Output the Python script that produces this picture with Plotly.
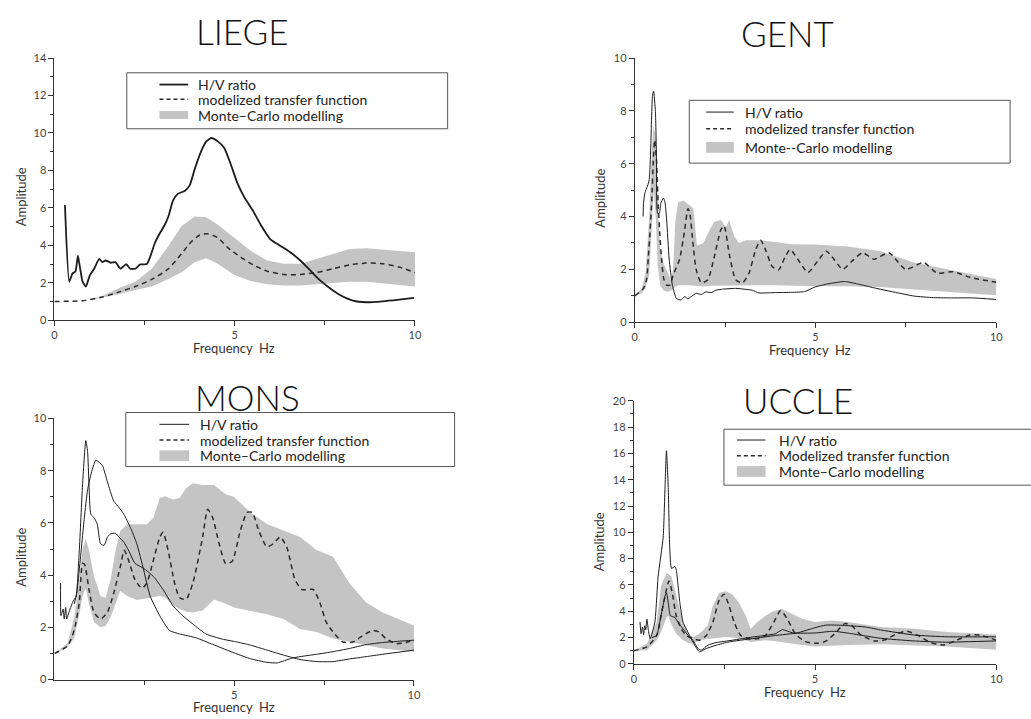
import plotly.graph_objects as go

FONT = "Lato, 'DejaVu Sans', sans-serif"
W, H = 1031, 719

INK = "#1c1c1c"
DASH_INK = "#2b2b2b"
BAND = "#c4c4c4"
AXIS = "#333333"
DASH = "5px,4px"

# ---------------- LIEGE ----------------
liege_hv = [(0.29, 6.15), (0.41, 2.06), (0.50, 2.5), (0.58, 2.6), (0.65, 3.45), (0.70, 2.9),
            (0.78, 2.06), (0.87, 1.8), (0.98, 2.4), (1.10, 2.75), (1.24, 3.28), (1.33, 3.1),
            (1.42, 3.19), (1.56, 3.07), (1.69, 3.1), (1.83, 2.75), (1.99, 3.0), (2.10, 2.75),
            (2.24, 2.75), (2.38, 2.98), (2.56, 3.0), (2.65, 3.36), (2.79, 4.15), (2.93, 4.67),
            (3.06, 5.1), (3.16, 5.54), (3.29, 6.4), (3.43, 6.76), (3.61, 6.9), (3.75, 7.2),
            (3.89, 8.07), (4.07, 9.03), (4.21, 9.55), (4.35, 9.73), (4.53, 9.55), (4.71, 9.2),
            (4.89, 8.33), (5.08, 7.29), (5.26, 6.59), (5.49, 5.9), (5.72, 5.1), (5.99, 4.32),
            (6.27, 3.97), (6.54, 3.63), (6.82, 3.19), (7.09, 2.67), (7.36, 2.14), (7.64, 1.71),
            (7.91, 1.36), (8.28, 1.05), (8.65, 0.96), (9.10, 1.01), (9.56, 1.10), (9.97, 1.19)]
liege_tf = [(0.0, 1.0), (0.5, 1.02), (0.87, 1.06), (1.33, 1.24), (1.78, 1.5), (2.24, 1.8),
            (2.7, 2.18), (3.16, 2.75), (3.52, 3.54), (3.8, 4.2), (4.03, 4.55), (4.25, 4.62),
            (4.53, 4.41), (4.8, 3.89), (5.17, 3.36), (5.54, 2.93), (5.9, 2.62), (6.36, 2.44),
            (6.82, 2.44), (7.27, 2.55), (7.73, 2.75), (8.19, 2.96), (8.65, 3.05), (9.1, 3.02),
            (9.56, 2.84), (10.0, 2.55)]
# (frequency, lower envelope, upper envelope)
liege_mc = [(1.0, 1.08, 1.12), (1.33, 1.2, 1.3), (1.78, 1.39, 1.71), (2.24, 1.62, 2.06),
            (2.7, 1.8, 2.75), (3.16, 2.2, 3.97), (3.52, 2.55, 5.02), (3.89, 3.1, 5.54),
            (4.21, 3.31, 5.5), (4.53, 3.02, 5.1), (4.99, 2.41, 4.41), (5.44, 2.09, 3.71),
            (5.9, 1.92, 3.19), (6.36, 1.85, 3.02), (6.82, 1.85, 3.02), (7.27, 1.92, 3.28),
            (7.73, 1.97, 3.54), (8.19, 2.06, 3.8), (8.65, 2.06, 3.84), (9.1, 1.97, 3.77),
            (9.56, 1.88, 3.71), (10.0, 1.8, 3.63)]

# ---------------- GENT ----------------
gent_hv = [(0.23, 4.0), (0.24, 4.5), (0.28, 4.9), (0.35, 5.15), (0.40, 5.4), (0.44, 6.6),
           (0.49, 8.59), (0.52, 8.75), (0.57, 7.97), (0.60, 6.23), (0.63, 4.13), (0.68, 4.13),
           (0.72, 4.5), (0.79, 4.7), (0.83, 4.58), (0.88, 3.9), (0.95, 2.39), (1.04, 1.4),
           (1.15, 0.9), (1.28, 0.84), (1.38, 0.97), (1.47, 0.88), (1.56, 0.97), (1.7, 1.09),
           (1.84, 1.05), (1.97, 1.15), (2.11, 1.12), (2.24, 1.21), (2.43, 1.25), (2.79, 1.28),
           (3.25, 1.21), (3.43, 1.11), (3.89, 1.12), (4.34, 1.13), (4.7, 1.16), (4.98, 1.33),
           (5.34, 1.45), (5.8, 1.54), (6.16, 1.45), (6.62, 1.3), (7.17, 1.14), (7.72, 0.99),
           (8.26, 0.93), (8.81, 0.92), (9.36, 0.92), (10.0, 0.86)]
gent_tf = [(0.0, 1.0), (0.24, 1.28), (0.33, 1.65), (0.37, 2.39), (0.42, 3.38), (0.47, 4.62),
           (0.51, 6.1), (0.55, 6.9), (0.60, 6.1), (0.65, 4.37), (0.69, 3.38), (0.74, 2.39),
           (0.8, 1.65), (0.88, 1.4), (0.97, 1.4), (1.06, 1.78), (1.24, 2.39), (1.38, 3.5),
           (1.47, 4.3), (1.52, 4.15), (1.61, 2.97), (1.7, 1.98), (1.84, 1.49), (2.02, 1.61),
           (2.2, 2.48), (2.38, 3.5), (2.47, 3.65), (2.61, 2.6), (2.79, 1.61), (2.98, 1.49),
           (3.16, 1.86), (3.34, 2.73), (3.48, 3.1), (3.62, 2.73), (3.8, 2.11), (3.98, 1.98),
           (4.16, 2.48), (4.3, 2.75), (4.5, 2.4), (4.79, 1.88), (5.05, 2.3), (5.3, 2.69),
           (5.5, 2.4), (5.75, 2.0), (6.0, 2.3), (6.3, 2.63), (6.62, 2.38), (7.03, 2.63),
           (7.49, 2.0), (7.99, 2.26), (8.36, 1.86), (8.81, 1.91), (9.27, 1.7), (10.0, 1.51)]
gent_mc = [(0.0, 1.0, 1.0), (0.2, 1.1, 1.3), (0.3, 1.3, 1.9), (0.4, 1.8, 4.0), (0.47, 3.5, 6.5),
           (0.52, 5.0, 7.45), (0.58, 4.0, 7.0), (0.63, 2.2, 4.6), (0.7, 1.4, 2.8), (0.8, 1.2, 2.2),
           (0.9, 1.15, 1.9), (1.0, 1.2, 1.6), (1.06, 1.25, 2.0), (1.12, 1.35, 3.8), (1.2, 1.4, 4.55),
           (1.35, 1.4, 4.6), (1.5, 1.4, 4.45), (1.62, 1.4, 4.3), (1.67, 1.4, 3.6), (1.72, 1.38, 2.9),
           (1.9, 1.35, 3.0), (2.07, 1.38, 3.5), (2.2, 1.4, 3.8), (2.38, 1.4, 3.87), (2.52, 1.4, 3.6),
           (2.61, 1.4, 3.87), (2.75, 1.4, 3.25), (2.88, 1.4, 3.0), (3.07, 1.4, 3.1), (3.43, 1.4, 3.1),
           (3.89, 1.4, 3.04), (4.34, 1.4, 2.95), (4.98, 1.36, 2.94), (5.89, 1.36, 2.87),
           (6.8, 1.33, 2.69), (7.72, 1.24, 2.26), (8.63, 1.14, 2.0), (10.0, 1.02, 1.64)]

# ---------------- MONS ----------------
mons_hv_a = [(0.17, 3.7), (0.18, 2.45), (0.24, 2.7), (0.27, 2.32), (0.31, 2.76), (0.34, 2.32),
             (0.4, 2.57), (0.5, 2.95), (0.6, 3.2), (0.69, 4.95), (0.78, 7.45), (0.87, 9.15),
             (0.92, 8.74), (0.96, 7.45), (1.01, 6.33), (1.1, 6.2), (1.19, 5.95), (1.28, 5.2),
             (1.38, 5.14), (1.47, 5.45), (1.56, 5.58), (1.7, 5.6), (1.8, 5.45), (1.93, 5.26),
             (2.06, 4.95), (2.24, 4.45), (2.48, 4.26), (2.75, 3.95), (3.02, 3.45), (3.3, 2.82),
             (3.57, 2.44), (3.85, 2.13), (4.21, 1.75), (4.67, 1.55), (5.04, 1.45), (5.45, 1.32),
             (5.91, 1.13), (6.37, 0.94), (6.83, 0.77), (7.29, 0.69), (7.75, 0.69), (8.2, 0.79),
             (8.67, 0.88), (9.13, 0.97), (10.0, 1.13)]
mons_hv_b = [(0.55, 2.9), (0.62, 3.3), (0.69, 4.2), (0.83, 6.2), (0.92, 7.27), (1.01, 7.83),
             (1.15, 8.4), (1.33, 8.2), (1.47, 7.58), (1.65, 6.83), (1.8, 6.58), (1.93, 6.33),
             (2.11, 5.83), (2.29, 5.2), (2.48, 4.2), (2.66, 3.2), (2.93, 2.44), (3.2, 1.88),
             (3.48, 1.75), (3.94, 1.6), (4.4, 1.35), (5.04, 1.0), (5.45, 0.8), (5.91, 0.66),
             (6.2, 0.64), (6.6, 0.82), (6.83, 0.88), (7.29, 0.97), (7.75, 1.07), (8.2, 1.19),
             (8.67, 1.34), (9.13, 1.42), (9.59, 1.47), (10.0, 1.51)]
mons_tf = [(0.0, 1.0), (0.37, 1.3), (0.55, 1.9), (0.69, 2.95), (0.78, 4.45), (0.84, 4.4),
           (0.96, 3.45), (1.1, 2.57), (1.28, 2.32), (1.47, 2.57), (1.65, 3.32), (1.83, 4.32),
           (1.94, 4.95), (2.06, 4.57), (2.24, 3.82), (2.43, 3.5), (2.57, 3.7), (2.75, 4.57),
           (2.93, 5.45), (3.02, 5.64), (3.16, 4.95), (3.34, 3.7), (3.48, 3.14), (3.66, 3.07),
           (3.85, 3.7), (4.12, 5.45), (4.26, 6.52), (4.4, 6.2), (4.58, 5.2), (4.76, 4.45),
           (4.94, 4.52), (5.17, 5.71), (5.36, 6.4), (5.5, 6.4), (5.68, 5.71), (5.91, 5.08),
           (6.09, 5.21), (6.28, 5.46), (6.46, 5.08), (6.69, 3.83), (6.88, 3.45), (7.2, 3.45),
           (7.38, 2.95), (7.56, 2.2), (7.75, 1.82), (8.02, 1.44), (8.3, 1.44), (8.58, 1.69),
           (8.85, 1.88), (9.03, 1.82), (9.22, 1.57), (9.49, 1.38), (9.77, 1.42), (10.0, 1.51)]
mons_mc = [(0.0, 1.0, 1.0), (0.37, 1.25, 1.4), (0.55, 1.6, 2.4), (0.69, 2.5, 3.8), (0.78, 3.2, 5.0),
           (0.87, 3.5, 5.4), (0.96, 2.9, 4.95), (1.1, 2.2, 3.95), (1.28, 2.0, 3.2), (1.42, 2.05, 3.13),
           (1.56, 2.4, 3.82), (1.7, 2.9, 4.95), (1.83, 3.4, 5.7), (2.02, 3.2, 5.95), (2.29, 3.05, 5.95),
           (2.57, 3.1, 5.95), (2.75, 3.15, 6.2), (2.93, 3.2, 6.95), (3.07, 3.15, 7.02), (3.3, 2.85, 6.9),
           (3.48, 2.7, 6.95), (3.66, 2.6, 7.33), (3.85, 2.57, 7.52), (4.12, 2.65, 7.45),
           (4.44, 3.07, 7.45), (4.76, 2.9, 7.1), (4.99, 2.76, 7.0), (5.45, 2.63, 6.4),
           (5.91, 2.5, 5.96), (6.37, 2.32, 5.71), (6.83, 1.94, 5.46), (7.29, 1.82, 4.96),
           (7.75, 1.57, 4.7), (8.2, 1.44, 3.7), (8.67, 1.32, 2.95), (9.13, 1.19, 2.57),
           (9.59, 1.13, 2.32), (10.0, 1.07, 2.07)]

# ---------------- UCCLE ----------------
uccle_hv_a = [(0.17, 3.2), (0.2, 2.3), (0.24, 2.8), (0.27, 2.2), (0.3, 2.9), (0.33, 2.6),
              (0.36, 3.4), (0.4, 2.6), (0.45, 1.92), (0.58, 3.16), (0.67, 6.64), (0.81, 9.63),
              (0.86, 13.36), (0.9, 16.2), (0.95, 13.4), (0.99, 8.88), (1.04, 7.26), (1.13, 7.4),
              (1.17, 7.16), (1.27, 4.65), (1.36, 3.16), (1.54, 2.16), (1.68, 1.42), (1.81, 0.92),
              (2.0, 1.17), (2.27, 1.42), (2.63, 1.67), (3.27, 1.92), (3.9, 2.16), (4.5, 2.35),
              (5.0, 2.75), (5.3, 2.95), (5.75, 2.93), (6.4, 2.8), (6.85, 2.56), (7.75, 2.19),
              (8.65, 2.06), (10.0, 2.06)]
uccle_hv_b = [(0.5, 2.0), (0.63, 2.16), (0.75, 3.66), (0.86, 5.16), (0.9, 5.4), (0.95, 4.65),
              (1.01, 3.66), (1.13, 3.54), (1.22, 3.16), (1.36, 2.66), (1.5, 2.16), (1.63, 1.8),
              (1.77, 1.17), (1.86, 1.04), (2.04, 1.42), (2.27, 1.62), (2.72, 1.8), (3.27, 2.04),
              (3.9, 2.29), (4.1, 2.6), (4.4, 2.35), (5.0, 2.35), (5.5, 2.48), (6.0, 2.3),
              (6.8, 1.95), (7.7, 1.75), (8.6, 1.65), (10.0, 1.75)]
uccle_tf = [(0.0, 1.0), (0.36, 1.29), (0.63, 2.16), (0.75, 3.66), (0.88, 5.4), (0.97, 6.3),
            (1.06, 5.4), (1.17, 3.66), (1.31, 2.66), (1.45, 2.16), (1.63, 1.92), (1.81, 1.8),
            (2.0, 2.16), (2.18, 3.16), (2.36, 4.9), (2.49, 5.3), (2.63, 4.4), (2.77, 3.16),
            (2.95, 2.16), (3.18, 1.92), (3.45, 1.92), (3.63, 2.16), (3.86, 3.16), (4.05, 4.05),
            (4.23, 3.43), (4.45, 2.31), (4.73, 1.69), (5.0, 1.57), (5.27, 1.69), (5.55, 2.31),
            (5.82, 3.06), (6.0, 2.93), (6.27, 2.19), (6.64, 1.74), (6.91, 1.81), (7.27, 2.31),
            (7.55, 2.48), (7.82, 2.19), (8.18, 1.64), (8.55, 1.44), (8.91, 1.81), (9.27, 2.19),
            (9.55, 2.19), (10.0, 1.81)]
uccle_mc = [(0.0, 1.0, 1.0), (0.36, 1.04, 1.54), (0.63, 1.8, 3.16), (0.75, 2.4, 5.9), (0.9, 3.5, 6.9),
            (0.95, 3.66, 6.85), (1.04, 3.0, 6.64), (1.17, 2.3, 5.16), (1.36, 1.8, 3.16),
            (1.5, 1.6, 2.29), (1.63, 1.54, 2.04), (1.81, 1.8, 2.3), (2.04, 1.9, 2.91),
            (2.18, 1.92, 4.4), (2.36, 2.0, 5.4), (2.54, 2.04, 5.53), (2.72, 2.0, 5.28),
            (2.9, 1.92, 4.65), (3.09, 1.8, 3.66), (3.22, 1.67, 2.66), (3.4, 1.7, 3.16),
            (3.63, 1.8, 3.66), (3.86, 1.75, 4.03), (4.09, 1.69, 4.17), (4.36, 1.55, 3.8),
            (4.64, 1.44, 3.43), (5.0, 1.32, 3.18), (5.45, 1.4, 3.3), (5.91, 1.44, 3.18),
            (6.82, 1.49, 2.81), (7.73, 1.39, 2.68), (8.64, 1.32, 2.43), (10.0, 1.07, 2.24)]

HV_NAME = "H/V ratio"

# Page layout of each panel (pixel positions on the 1031x719 page)
panels = [
    dict(title="LIEGE", hv=[liege_hv], tf=liege_tf, mc=liege_mc, ymax=14,
         tf_name="modelized transfer function", mc_name="Monte\u2013Carlo modelling",
         xpx=(52, 416), ypx=(52, 319), xticks=[0, 5, 10], hv_width=1.8,
         title_at=(242, 24), amp_at=(18, 193), freq_at=(233, 347),
         box=(125, 67, 449, 124), rows=(79, 94, 110), sample=(158, 187), text_x=195, swatch_h=8),
    dict(title="GENT", hv=[gent_hv], tf=gent_tf, mc=gent_mc, ymax=10,
         tf_name="modelized transfer function", mc_name="Monte--Carlo modelling",
         xpx=(638, 1003), ypx=(52, 321), xticks=[0, 5, 10], hv_width=1.0,
         title_at=(792, 26), amp_at=(603, 195), freq_at=(815, 349),
         box=(693, 95, 1017, 159), rows=(107, 124, 143), sample=(710, 738), text_x=747, swatch_h=11),
    dict(title="MONS", hv=[mons_hv_a, mons_hv_b], tf=mons_tf, mc=mons_mc, ymax=10,
         tf_name="modelized transfer function", mc_name="Monte\u2013Carlo modelling",
         xpx=(52, 415), ypx=(419, 685), xticks=[5, 10], hv_width=1.0,
         title_at=(247, 397), amp_at=(18, 560), freq_at=(233, 713),
         box=(124, 413, 456, 468), rows=(425, 441, 457), sample=(158, 188), text_x=197, swatch_h=11),
    dict(title="UCCLE", hv=[uccle_hv_a, uccle_hv_b], tf=uccle_tf, mc=uccle_mc, ymax=20,
         tf_name="Modelized transfer function", mc_name="Monte\u2013Carlo modelling",
         xpx=(637, 1003), ypx=(401, 669), xticks=[0, 5, 10], hv_width=1.0,
         title_at=(803, 400), amp_at=(602, 545), freq_at=(810, 698),
         box=(728, 430, 1040, 487), rows=(441, 457, 473), sample=(741, 770), text_x=782, swatch_h=11),
]


def fx(p):
    return p / W


def fy(p):
    return 1 - p / H


fig = go.Figure()
annotations = []
shapes = []
layout = {}


def paper_text(text, x, y, size, color="#222", anchor="center", angle=0, weight=None):
    font = dict(family=FONT, size=size, color=color)
    if weight:
        font["weight"] = weight
    return dict(text=text, x=fx(x), y=fy(y), xref="paper", yref="paper",
                xanchor=anchor, yanchor="middle", showarrow=False, textangle=angle,
                font=font)


for i, p in enumerate(panels, start=1):
    sfx = "" if i == 1 else str(i)
    xa, ya = "x" + sfx, "y" + sfx

    # Monte-Carlo envelope as a closed polygon
    f = [r[0] for r in p["mc"]]
    lo = [r[1] for r in p["mc"]]
    hi = [r[2] for r in p["mc"]]
    fig.add_trace(go.Scatter(
        x=f + f[::-1], y=hi + lo[::-1], mode="lines", fill="toself",
        fillcolor=BAND, line=dict(width=0, color=BAND), name=p["mc_name"],
        showlegend=False, xaxis=xa, yaxis=ya, hoverinfo="skip"))

    # modelled transfer function
    fig.add_trace(go.Scatter(
        x=[r[0] for r in p["tf"]], y=[r[1] for r in p["tf"]], mode="lines",
        line=dict(color=DASH_INK, width=1.5, dash=DASH, shape="spline", smoothing=0.6),
        name=p["tf_name"], showlegend=False, xaxis=xa, yaxis=ya))

    # measured H/V curves
    for curve in p["hv"]:
        fig.add_trace(go.Scatter(
            x=[r[0] for r in curve], y=[r[1] for r in curve], mode="lines",
            line=dict(color=INK, width=p["hv_width"], shape="spline", smoothing=0.5),
            name=HV_NAME, showlegend=False, xaxis=xa, yaxis=ya))

    x0, x1 = p["xpx"]
    ytop, ybot = p["ypx"]
    tickfont = dict(family=FONT, size=11, color="#444")
    layout["xaxis" + sfx] = dict(
        domain=[fx(x0), fx(x1)], range=[0, 10], anchor=ya,
        showline=True, linecolor=AXIS, linewidth=1, showgrid=False, zeroline=False,
        ticks="outside", ticklen=5, tickcolor=AXIS, tickvals=p["xticks"],
        ticktext=[str(v) for v in p["xticks"]], tickfont=tickfont,
        minor=dict(tickvals=[2.5, 7.5], ticks="outside", ticklen=4, tickcolor=AXIS),
        fixedrange=True)
    layout["yaxis" + sfx] = dict(
        domain=[fy(ybot), fy(ytop)], range=[0, p["ymax"]], anchor=xa,
        showline=True, linecolor=AXIS, linewidth=1, showgrid=False, zeroline=False,
        ticks="outside", ticklen=5, tickcolor=AXIS, dtick=2, tick0=0, tickfont=tickfont,
        minor=dict(dtick=1, ticks="outside", ticklen=3, tickcolor=AXIS),
        fixedrange=True)

    # framed key: solid line, dashed line, grey swatch
    bx0, by0, bx1, by1 = p["box"]
    shapes.append(dict(type="rect", xref="paper", yref="paper",
                       x0=fx(bx0), x1=fx(bx1), y0=fy(by1), y1=fy(by0),
                       line=dict(color="#555", width=1), fillcolor="rgba(0,0,0,0)"))
    r1, r2, r3 = p["rows"]
    s0, s1 = p["sample"]
    shapes.append(dict(type="line", xref="paper", yref="paper",
                       x0=fx(s0), x1=fx(s1), y0=fy(r1), y1=fy(r1),
                       line=dict(color=INK, width=p["hv_width"])))
    shapes.append(dict(type="line", xref="paper", yref="paper",
                       x0=fx(s0), x1=fx(s1), y0=fy(r2), y1=fy(r2),
                       line=dict(color=DASH_INK, width=1.5, dash="4px,3px")))
    hh = p["swatch_h"] / 2
    shapes.append(dict(type="rect", xref="paper", yref="paper",
                       x0=fx(s0), x1=fx(s1), y0=fy(r3 + hh), y1=fy(r3 - hh),
                       line=dict(width=0), fillcolor=BAND))
    tx = p["text_x"]
    annotations.append(paper_text(HV_NAME, tx, r1, 14, anchor="left"))
    annotations.append(paper_text(p["tf_name"], tx, r2, 14, anchor="left"))
    annotations.append(paper_text(p["mc_name"], tx, r3, 14, anchor="left"))

    annotations.append(paper_text(p["title"], *p["title_at"], 35, color="#111", weight=300))
    annotations.append(paper_text("Amplitude", *p["amp_at"], 13, color="#333", angle=-90))
    annotations.append(paper_text("Frequency  Hz", *p["freq_at"], 13, color="#333"))

fig.update_layout(
    width=W, height=H, margin=dict(l=0, r=0, t=0, b=0),
    paper_bgcolor="white", plot_bgcolor="white", showlegend=False,
    font=dict(family=FONT, color="#222"),
    annotations=annotations, shapes=shapes, **layout)

fig.write_html("out.html")
